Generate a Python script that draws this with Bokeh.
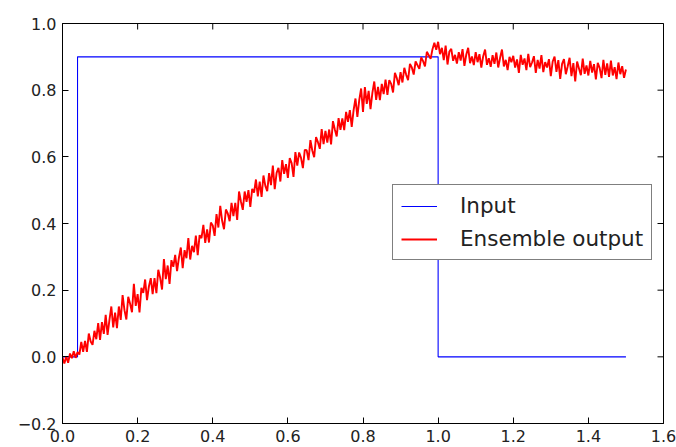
import numpy as np
from bokeh.plotting import figure
from bokeh.models import Range1d, FixedTicker, LinearAxis, Legend, LegendItem
from bokeh.embed import file_html
from bokeh.resources import INLINE

# ---- data ----
input_t = [0.0, 0.04, 0.04, 1.0, 1.0, 1.5]
input_v = [0.0, 0.0, 0.9, 0.9, 0.0, 0.0]

output_t = np.linspace(0.0, 1.5, 301)
output_v = [
    -0.002, -0.020, 0.001, -0.018, 0.010, -0.004, 0.017, -0.003, 0.014, 0.007,
    0.045, 0.015, 0.048, 0.015, 0.070, 0.046, 0.036, 0.078, 0.053, 0.101,
    0.051, 0.104, 0.069, 0.126, 0.066, 0.111, 0.151, 0.088, 0.133, 0.086,
    0.151, 0.111, 0.185, 0.140, 0.112, 0.180, 0.159, 0.134, 0.219, 0.153,
    0.188, 0.133, 0.207, 0.192, 0.232, 0.170, 0.211, 0.236, 0.188, 0.236,
    0.191, 0.261, 0.237, 0.202, 0.293, 0.233, 0.274, 0.219, 0.290, 0.270,
    0.306, 0.257, 0.298, 0.328, 0.266, 0.320, 0.296, 0.356, 0.292, 0.333,
    0.314, 0.364, 0.305, 0.365, 0.356, 0.396, 0.342, 0.382, 0.343, 0.403,
    0.394, 0.363, 0.428, 0.388, 0.453, 0.408, 0.383, 0.442, 0.430, 0.407,
    0.462, 0.422, 0.462, 0.411, 0.496, 0.466, 0.441, 0.496, 0.465, 0.500,
    0.450, 0.504, 0.493, 0.532, 0.481, 0.526, 0.480, 0.544, 0.513, 0.497,
    0.551, 0.515, 0.574, 0.503, 0.552, 0.567, 0.526, 0.590, 0.549, 0.578,
    0.537, 0.596, 0.581, 0.540, 0.614, 0.574, 0.613, 0.597, 0.566, 0.621,
    0.620, 0.590, 0.650, 0.619, 0.599, 0.659, 0.644, 0.624, 0.683, 0.638,
    0.678, 0.643, 0.682, 0.637, 0.707, 0.682, 0.661, 0.716, 0.681, 0.715,
    0.680, 0.735, 0.705, 0.740, 0.690, 0.740, 0.775, 0.720, 0.770, 0.805,
    0.735, 0.809, 0.759, 0.798, 0.743, 0.792, 0.826, 0.771, 0.810, 0.770,
    0.819, 0.788, 0.832, 0.786, 0.830, 0.819, 0.793, 0.852, 0.836, 0.815,
    0.854, 0.823, 0.867, 0.846, 0.830, 0.879, 0.868, 0.847, 0.886, 0.875,
    0.864, 0.898, 0.887, 0.871, 0.915, 0.905, 0.894, 0.923, 0.942, 0.921,
    0.945, 0.908, 0.927, 0.890, 0.934, 0.877, 0.916, 0.924, 0.888, 0.906,
    0.880, 0.914, 0.889, 0.923, 0.873, 0.907, 0.927, 0.881, 0.901, 0.875,
    0.914, 0.884, 0.908, 0.868, 0.902, 0.922, 0.876, 0.896, 0.870, 0.905,
    0.879, 0.913, 0.868, 0.897, 0.922, 0.871, 0.891, 0.860, 0.900, 0.884,
    0.903, 0.868, 0.892, 0.852, 0.906, 0.876, 0.895, 0.860, 0.909, 0.869,
    0.883, 0.902, 0.852, 0.891, 0.865, 0.905, 0.854, 0.884, 0.868, 0.893,
    0.842, 0.886, 0.901, 0.855, 0.890, 0.834, 0.879, 0.893, 0.848, 0.872,
    0.897, 0.842, 0.881, 0.826, 0.886, 0.865, 0.845, 0.895, 0.849, 0.874,
    0.844, 0.888, 0.853, 0.878, 0.832, 0.882, 0.867, 0.836, 0.891, 0.846,
    0.880, 0.840, 0.889, 0.844, 0.869, 0.833, 0.883, 0.848, 0.872, 0.837,
    0.862,
]

x_ticks = [0.0, 0.2, 0.4, 0.6, 0.8, 1.0, 1.2, 1.4, 1.6]
x_tick_labels = ["0.0", "0.2", "0.4", "0.6", "0.8", "1.0", "1.2", "1.4", "1.6"]
y_ticks = [-0.2, 0.0, 0.2, 0.4, 0.6, 0.8, 1.0]
y_tick_labels = ["\u22120.2", "0.0", "0.2", "0.4", "0.6", "0.8", "1.0"]

X_MIN, X_MAX = 0.0, 1.6
Y_MIN, Y_MAX = -0.2, 1.0
FONT = "DejaVu Sans"

p = figure(width=676, height=447, output_backend="svg", toolbar_location=None,
           x_range=Range1d(X_MIN, X_MAX), y_range=Range1d(Y_MIN, Y_MAX),
           x_axis_location=None, y_axis_location=None,
           min_border_left=62, min_border_right=13, min_border_top=23,
           min_border_bottom=24)
p.background_fill_color = "white"
p.border_fill_color = "white"
p.outline_line_color = "black"
p.outline_line_width = 1
p.xgrid.visible = False
p.ygrid.visible = False

r_in = p.line(input_t, input_v, line_color="#0000ff", line_width=1.1)
r_out = p.line(output_t, output_v, line_color="#ff0000", line_width=1.9)

# mirrored inward ticks on top and right edges (half of each dash is clipped by the frame)
p.scatter(x=x_ticks, y=[Y_MAX] * len(x_ticks), marker="dash", size=12, angle=np.pi / 2,
          line_color="black", line_width=1)
p.scatter(x=[X_MAX] * len(y_ticks), y=y_ticks, marker="dash", size=12,
          line_color="black", line_width=1)


def style_axis(ax, ticks, labels):
    ax.ticker = FixedTicker(ticks=ticks)
    ax.major_label_overrides = {t: l for t, l in zip(ticks, labels)}
    ax.minor_tick_line_color = None
    ax.major_tick_in = 6
    ax.major_tick_out = 0
    ax.major_tick_line_color = "black"
    ax.axis_line_color = "black"
    ax.major_label_text_font = FONT
    ax.major_label_text_color = "#222222"
    ax.major_label_text_font_size = "16px"
    ax.major_label_standoff = 6


xb = LinearAxis()
style_axis(xb, x_ticks, x_tick_labels)
p.add_layout(xb, "below")
yl = LinearAxis()
style_axis(yl, y_ticks, y_tick_labels)
p.add_layout(yl, "left")

legend = Legend(items=[LegendItem(label="Input", renderers=[r_in]),
                       LegendItem(label="Ensemble output", renderers=[r_out])],
                location=(330, 163))
legend.label_text_font = FONT
legend.label_text_font_size = "21.5px"
legend.label_text_color = "#222222"
legend.label_height = 20
legend.glyph_height = 20
legend.glyph_width = 36
legend.label_standoff = 23
legend.spacing = 8
legend.padding = 8
legend.margin = 0
legend.border_line_color = "black"
legend.border_line_width = 1
legend.background_fill_color = "white"
legend.background_fill_alpha = 1.0
p.add_layout(legend, "center")

open("out.html", "w").write(file_html(p, INLINE))
